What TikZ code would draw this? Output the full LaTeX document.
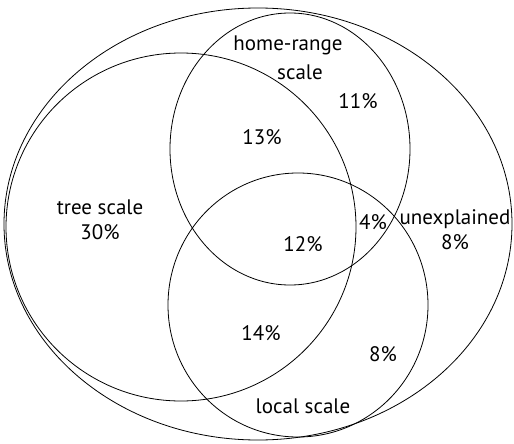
\documentclass[tikz,border=0pt]{standalone}
\usepackage{fontspec}
\setmainfont{PT Sans}
\tikzset{%
	set/.style   = {draw, line width = 0.8pt},
	lbl/.style   = {align = center, inner sep = 0pt, font = \fontsize{21}{25}\selectfont}
}

\begin{document}
\begin{tikzpicture}[x=1pt,y=-1pt]
			\useasboundingbox (0,0) rectangle (514,444);

			% sets
			\draw[set] (258,224) ellipse [x radius=254pt, y radius=216pt];
			\draw[set] (181,227) ellipse [x radius=175pt, y radius=174pt];
			\draw[set] (290,149) ellipse [x radius=120pt, y radius=136pt];
			\draw[set] (298,305) ellipse [x radius=130pt, y radius=132pt];

			% labels
			\node[lbl] (home)     at (288,45)  {home-range};
			\node[lbl] (homescale) at (300,72) {scale};
			\node[lbl] (homeonly) at (358,101) {11\%};
			\node[lbl] (treehome) at (262,137) {13\%};
			\node[lbl] (tree)     at (100,220) {tree scale\\30\%};
			\node[lbl] (all)      at (373,222) {4\%};
			\node[lbl] (unexpl)   at (455,230) {unexplained\\8\%};
			\node[lbl] (center)   at (303,244) {12\%};
			\node[lbl] (treeloc)  at (261,333) {14\%};
			\node[lbl] (loconly)  at (383,354) {8\%};
			\node[lbl] (local)    at (303,406) {local scale};
		\end{tikzpicture}
\end{document}
